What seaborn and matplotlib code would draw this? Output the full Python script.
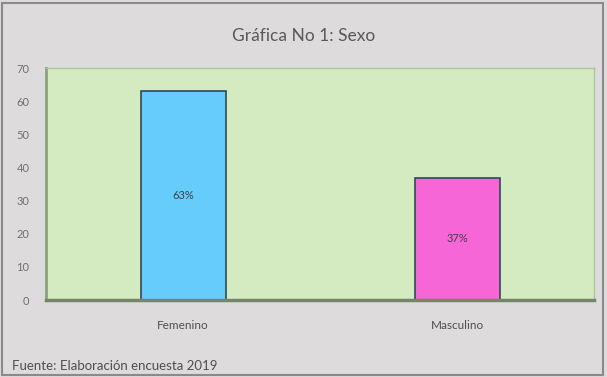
import numpy as np
import pandas as pd
import matplotlib
matplotlib.use("Agg")
import matplotlib.pyplot as plt
import seaborn as sns
from matplotlib.patches import Rectangle

categorias = ["Femenino", "Masculino"]
valores = [63, 37]
etiquetas = ["63%", "37%"]
colores = ["#66ccfa", "#f766d6"]
yticks = [0, 10, 20, 30, 40, 50, 60, 70]

df = pd.DataFrame({"Sexo": categorias, "Valor": valores})

sns.set_style("white")
plt.rcParams["font.family"] = ["Lato", "DejaVu Sans"]

fig = plt.figure(figsize=(6.07, 3.77), dpi=100, facecolor="#dddbdc")
ax = fig.add_axes([0.0758, 0.204, 0.903, 0.615])
ax.set_facecolor("#d4ebc1")

sns.barplot(data=df, x="Sexo", y="Valor", hue="Sexo", palette=colores, saturation=1,
            width=0.31, edgecolor="#2f4a55", linewidth=1.2, legend=False, ax=ax)

# label in the middle of each bar
for bar, txt in zip(ax.patches, etiquetas):
    ax.text(bar.get_x() + bar.get_width() / 2, bar.get_height() / 2, txt,
            ha="center", va="center", fontsize=8, color="#404050")

ax.set_ylim(0, 70)
ax.set_xlim(-0.5, 1.5)
ax.set_yticks(yticks)
ax.tick_params(axis="y", length=0, labelsize=8, labelcolor="#707070", pad=12)
ax.tick_params(axis="x", length=0, labelsize=8.5, labelcolor="#505050", pad=14)
ax.set_xlabel("")
ax.set_ylabel("")

for s in ["top", "right"]:
    ax.spines[s].set_color("#a9c79a")
    ax.spines[s].set_linewidth(1)
ax.spines["left"].set_color("#8aa27c")
ax.spines["left"].set_linewidth(2)
ax.spines["bottom"].set_color("#73866a")
ax.spines["bottom"].set_linewidth(2.5)

fig.text(0.5, 0.905, "Gráfica No 1: Sexo", ha="center", va="center",
         fontsize=12.5, color="#595959")
fig.text(0.02, 0.03, "Fuente: Elaboración encuesta 2019", ha="left", va="center",
         fontsize=9.5, color="#505050")

# outer frame
fig.patches.append(Rectangle((0.004, 0.006), 0.99, 0.985, transform=fig.transFigure,
                             fill=False, edgecolor="#8a8a8a", linewidth=1.5))

fig.savefig("out.png", dpi=100, facecolor=fig.get_facecolor())
